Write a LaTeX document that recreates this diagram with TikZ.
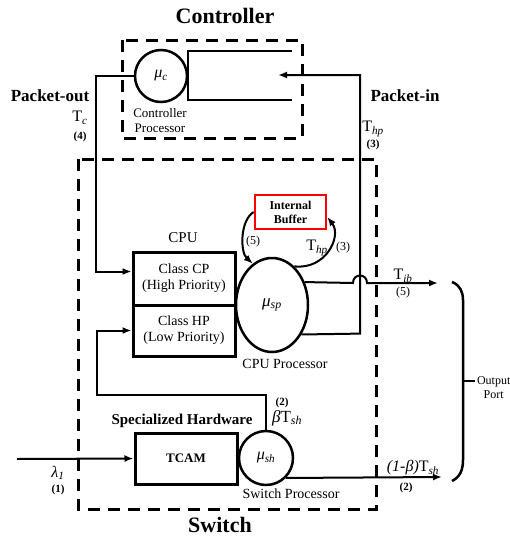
\documentclass[tikz,border=0pt]{standalone}
\usepackage{fontspec}
\setmainfont{Liberation Serif}
\usetikzlibrary{shapes.geometric,calc,arrows.meta}

\begin{document}
\begin{tikzpicture}[x=1pt,y=-1pt,>={Latex[length=9pt,width=7pt]},line width=2pt,
    boxtitle/.style={font=\fontsize{22}{26}\selectfont\bfseries},
    sidetitle/.style={font=\fontsize{17}{20}\selectfont\bfseries},
    plain/.style={font=\fontsize{14}{16}\selectfont,align=center},
    rate/.style={font=\fontsize{16}{18}\selectfont},
    stepno/.style={font=\fontsize{11}{13}\selectfont\bfseries},
    region/.style={line width=3pt,dash pattern=on 12pt off 8pt},
    queuebox/.style={draw,line width=3pt,minimum width=102pt,inner sep=0pt,align=center,font=\fontsize{14}{16}\selectfont},
    server/.style={draw,circle,line width=2.5pt,inner sep=0pt}]
  \useasboundingbox (0,0) rectangle (510,536);
  % Dashed regions
  \draw[region] (122,40) rectangle (302,138);                 % controller
  \draw[region] (78,159) rectangle (376,509);                 % switch
  \node[boxtitle] (ctrltitle) at (225,16) {Controller};
  \node[boxtitle] (swtitle) at (220,525) {Switch};
  % Controller
  \node[server,minimum size=52pt,font=\fontsize{16}{18}\selectfont] (ctrlproc) at (161,76) {\textit{μ}\textsubscript{\textit{c}}};
  \node[font=\fontsize{13}{15}\selectfont,align=center] (ctrllbl) at (160,121) {Controller\\Processor};
  \draw (292,51) -- (188,51) -- (188,100) -- (292,100);       % queue
  \coordinate (ctrlin) at (278,75);
  % CPU
  \node[font=\fontsize{15}{17}\selectfont] (cpulbl) at (183,238) {CPU};
  \node[queuebox,minimum height=53pt] (cpucp) at (184,278.5) {Class CP\\(High Priority)};
  \node[queuebox,minimum height=51pt] (cpuhp) at (184,330.5) {Class HP\\(Low Priority)};
  \node[draw,ellipse,line width=2.5pt,minimum width=72pt,minimum height=94pt,inner sep=0pt,font=\fontsize{17}{19}\selectfont] (cpuproc) at (272,305) {\textit{μ}\textsubscript{\textit{sp}}};
  \node[plain] (cpuproclbl) at (285,364) {CPU Processor};
  \node[draw=red,line width=2.5pt,minimum width=71pt,minimum height=34pt,inner sep=0pt,align=center,font=\fontsize{12}{14}\selectfont\bfseries] (buffer) at (290.5,212) {Internal\\Buffer};
  % Specialized hardware
  \node[font=\fontsize{15}{17}\selectfont\bfseries] (hwlbl) at (182,421) {Specialized Hardware};
  \node[queuebox,minimum height=51pt,font=\fontsize{13}{15}\selectfont\bfseries] (tcam) at (186,458.5) {TCAM};
  \node[server,minimum size=54pt,font=\fontsize{16}{18}\selectfont] (swproc) at (266,458) {\textit{μ}\textsubscript{\textit{sh}}};
  \node[plain] (swproclbl) at (291,494) {Switch Processor};
  % Packet-out
  \draw[->] (ctrlproc.west) -- ++(-38,0) |- ($(cpucp.west)+(0,-7)$);
  \node[sidetitle] (pktout) at (50,96) {Packet-out};
  \node[rate] (tc) at (80,118) {T\textsubscript{\textit{c}}};
  \node[stepno] (tcno) at (80,137) {(4)};
  % Packet-in
  \draw[->] (cpuproc.-45) -- (360,333.6) -- (360,75) -- (ctrlin);
  \node[sidetitle] (pktin) at (405,96) {Packet-in};
  \node[rate] (thp) at (373,129) {T\textsubscript{\textit{hp}}};
  \node[stepno] (thpno) at (373,145) {(3)};
  % Internal buffer loop
  \draw[->] (buffer.west) .. controls (240,220) and (240,252) .. (cpuproc.115);
  \draw[->] (cpuproc.60) .. controls (326,270) and (342,236) .. ($(buffer.east)+(0,5)$);
  \node[font=\fontsize{12}{14}\selectfont] (bufin) at (253,242) {(5)};
  \node[rate] (bufrate) at (317,248) {T\textsubscript{\textit{hp}}};
  \node[font=\fontsize{12}{14}\selectfont] (bufno) at (343,248) {(3)};
  % CPU output
  \coordinate (ibout) at (438,283);
  \draw[->] (cpuproc.35) -- (353,283) .. controls (353,273) and (367,273) .. (367,283) -- (ibout);
  \node[rate] (tib) at (403,276) {T\textsubscript{\textit{ib}}};
  \node[font=\fontsize{12}{14}\selectfont] (tibno) at (403,293) {(5)};
  % Switch processor
  \draw[->] (swproc.north) -- ++(0,-35) -| ($(cpuhp.west)+(-35,0)$) -- (cpuhp.west);
  \node[stepno] (betano) at (282,403) {(2)};
  \node[font=\fontsize{17}{19}\selectfont] (beta) at (287,418) {\textit{β}T\textsubscript{\textit{sh}}};
  \coordinate (lamin) at (17,459);
  \draw[->] (lamin) -- (tcam.west);
  \node[rate] (lam) at (58,473) {\textit{λ}\textsubscript{\textit{1}}};
  \node[stepno] (lamno) at (58,490) {(1)};
  \coordinate (shout) at (442,477);
  \draw[->] (swproc.-45) -- (shout);
  \node[rate] (shrate) at (413,468) {\textit{(1-β)}T\textsubscript{\textit{sh}}};
  \node[stepno] (shno) at (406,488) {(2)};
  % Output port
  \draw[line width=2.5pt] (452,282) .. controls (460,285) and (463,292) .. (463,300) -- (463,460) .. controls (463,470) and (460,477) .. (452,481);
  \draw[line width=2.5pt] (463,381) -- (475,381);
  \node[font=\fontsize{12}{14}\selectfont,align=center,anchor=west,inner sep=1pt] (outport) at (475,388) {Output\\Port};
\end{tikzpicture}
\end{document}
